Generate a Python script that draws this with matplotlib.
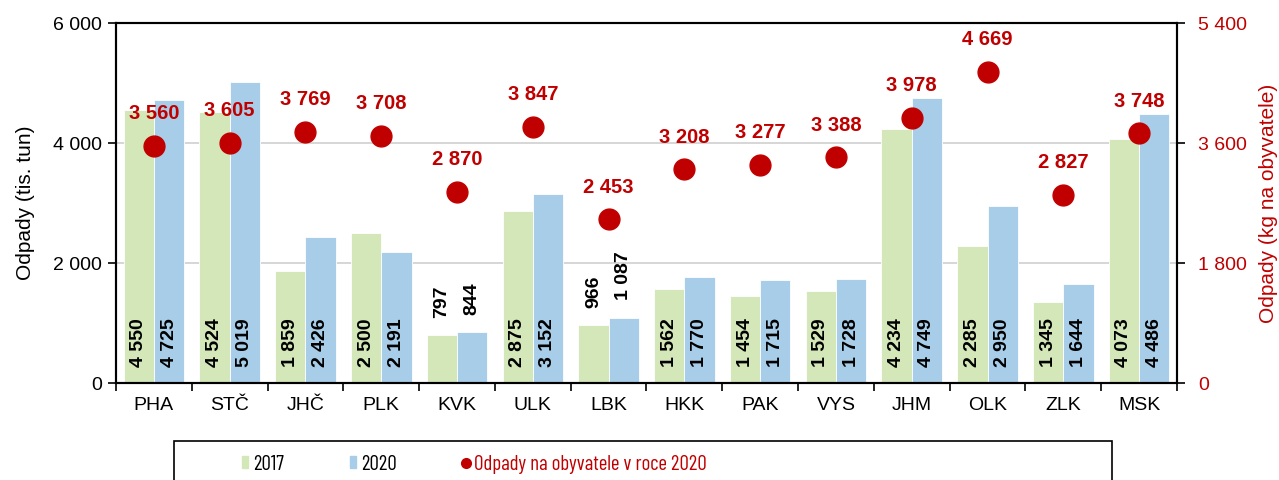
import matplotlib
matplotlib.use("Agg")
import matplotlib.pyplot as plt
from matplotlib.patches import Rectangle
from matplotlib.lines import Line2D
from matplotlib import font_manager
import numpy as np

regions = ["PHA", "STČ", "JHČ", "PLK", "KVK", "ULK", "LBK", "HKK", "PAK", "VYS", "JHM", "OLK", "ZLK", "MSK"]
waste_2017 = [4550, 4524, 1859, 2500, 797, 2875, 966, 1562, 1454, 1529, 4234, 2285, 1345, 4073]
waste_2020 = [4725, 5019, 2426, 2191, 844, 3152, 1087, 1770, 1715, 1728, 4749, 2950, 1644, 4486]
per_capita_2020 = [3560, 3605, 3769, 3708, 2870, 3847, 2453, 3208, 3277, 3388, 3978, 4669, 2827, 3748]

left_ticks = [0, 2000, 4000, 6000]
right_ticks = [0, 1800, 3600, 5400]

GREEN = "#D3E7B8"
BLUE = "#A7CDE8"
RED = "#C00000"

plt.rcParams['font.family'] = ['Liberation Sans', 'DejaVu Sans']
names = {f.name for f in font_manager.fontManager.ttflist}
narrow = [n for n in ('Barlow Condensed', 'Archivo Narrow', 'Liberation Sans') if n in names] + ['DejaVu Sans']

def fmt(v):
    return f"{v:,}".replace(",", " ")

fig = plt.figure(figsize=(12.79, 4.8), dpi=100)
ax = fig.add_axes([116/1279, 1-383/480, (1177-116)/1279, (383-23)/480])
ax2 = ax.twinx()
ax.set_zorder(1)
ax2.set_zorder(2)
ax.patch.set_visible(False)

x = np.arange(len(regions))
w = 0.4
b1 = ax.bar(x - w/2, waste_2017, w, color=GREEN, edgecolor="white", linewidth=0.6, zorder=2)
b2 = ax.bar(x + w/2, waste_2020, w, color=BLUE, edgecolor="white", linewidth=0.6, zorder=2)

ax.set_xlim(-0.5, len(regions) - 0.5)
ax.set_ylim(0, 6000)
ax.set_yticks(left_ticks)
ax.set_yticklabels([fmt(t) for t in left_ticks])
ax.yaxis.grid(True, color="#D0D0D0", linewidth=1.2, zorder=0)
ax.set_axisbelow(True)
ax.set_xticks(x)
ax.set_xticklabels(regions)
ax.set_xticks(np.arange(-0.5, len(regions)), minor=True)
ax.tick_params(axis='x', which='major', length=0, pad=10, labelsize=14)
ax.tick_params(axis='x', which='minor', length=6, width=1.2, direction='out')
ax.tick_params(axis='y', length=6, width=1.2, direction='out', labelsize=14, pad=4)
ax.set_ylabel("Odpady (tis. tun)", fontsize=15, labelpad=13)
for s in ax.spines.values():
    s.set_linewidth(1.5)

for vals, off in ((waste_2017, -w/2), (waste_2020, w/2)):
    for i, v in enumerate(vals):
        if v >= 1200:
            ax.annotate(fmt(v), (x[i] + off, 0), xytext=(0, 11.5), textcoords='offset points',
                        rotation=90, ha='center', va='bottom', fontsize=14, fontweight='bold', zorder=3)
        else:
            ax.annotate(fmt(v), (x[i] + off, v), xytext=(0, 12.5), textcoords='offset points',
                        rotation=90, ha='center', va='bottom', fontsize=14, fontweight='bold', zorder=3)

ax2.plot(x, per_capita_2020, linestyle='none', marker='o', markersize=15, color=RED, zorder=4)
ax2.set_ylim(0, 5400)
ax2.set_yticks(right_ticks)
ax2.set_yticklabels([fmt(t) for t in right_ticks])
ax2.tick_params(axis='y', length=6, width=1.2, direction='out', labelsize=14, labelcolor=RED, pad=9)
ax2.set_ylabel("Odpady (kg na obyvatele)", fontsize=15, color=RED, labelpad=9)
for s in ax2.spines.values():
    s.set_linewidth(1.5)
for i, v in enumerate(per_capita_2020):
    ax2.annotate(fmt(v), (x[i], v), xytext=(0, 23), textcoords='offset points',
                 ha='center', va='center', fontsize=14.5, fontweight='bold', color=RED)

# legend box
fig.patches.append(Rectangle((174/1279, -0.1), (1112-174)/1279, 1-441/480+0.1,
                             transform=fig.transFigure, facecolor='white', edgecolor='black', linewidth=1.2))
h1 = Rectangle((0, 0), 1, 1, color=GREEN)
h2 = Rectangle((0, 0), 1, 1, color=BLUE)
h3 = Line2D([], [], linestyle='none', marker='o', markersize=7, color=RED)
leg = fig.legend([h1, h2, h3], ["2017", "2020", "Odpady na obyvatele v roce 2020"],
                 loc='center left', bbox_to_anchor=(242/1279, 1-464/480), ncol=3, frameon=False,
                 prop={'family': narrow, 'size': 15}, handlelength=0.3, handleheight=0.55,
                 handletextpad=0.25, columnspacing=3.15, borderpad=0, borderaxespad=0)
for t in leg.get_texts():
    if t.get_text().startswith("Odpady"):
        t.set_color(RED)

fig.savefig("out.png", dpi=100)
